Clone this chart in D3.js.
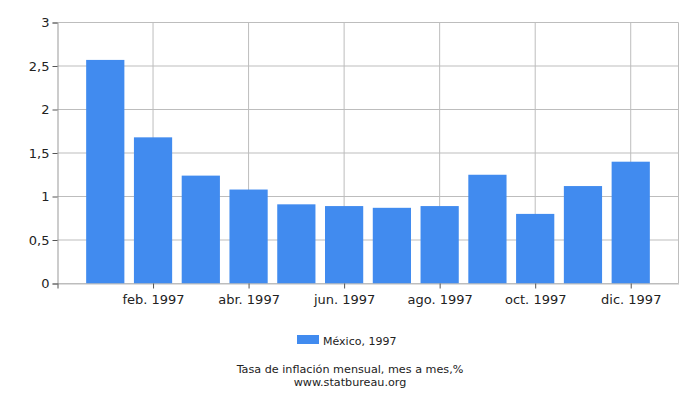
<!DOCTYPE html>
<html>
<head>
<meta charset="utf-8">
<script src="https://cdn.jsdelivr.net/npm/d3@7"></script>
<style>
  body { margin: 0; background: #fff; }
  text { font-family: "DejaVu Sans", sans-serif; fill: #222; }
</style>
</head>
<body>
<div id="chart"></div>
<script>
// data
var months = ["ene.", "feb.", "mar.", "abr.", "may.", "jun.", "jul.", "ago.", "sep.", "oct.", "nov.", "dic."];
var values = [2.57, 1.68, 1.24, 1.08, 0.91, 0.89, 0.87, 0.89, 1.25, 0.80, 1.12, 1.40];
var yTicks = [0, 0.5, 1, 1.5, 2, 2.5, 3];
var year = "1997";
var seriesName = "México, 1997";
var title = "Tasa de inflación mensual, mes a mes,%";
var source = "www.statbureau.org";

var width = 700, height = 400;
var margin = {top: 22.5, right: 21.5, bottom: 116.5, left: 57.5};
var w = width - margin.left - margin.right;
var h = height - margin.top - margin.bottom;

var svg = d3.select("#chart").append("svg")
    .attr("width", width)
    .attr("height", height);

var g = svg.append("g")
    .attr("transform", "translate(" + margin.left + "," + margin.top + ")");

// month index: bars at 0..11, one slot of padding each side
var x = d3.scaleLinear().domain([-1, 12]).range([0, w]);
var y = d3.scaleLinear().domain([0, 3]).range([h, 0]);
var slot = x(1) - x(0);
var barW = slot * 0.8;

var fmt = function(d) { return String(d).replace(".", ","); };
var xTicks = d3.range(1, 12, 2);

// grid
g.append("g").selectAll("line")
    .data(yTicks)
    .enter().append("line")
    .attr("x1", 0).attr("x2", w)
    .attr("y1", d => y(d)).attr("y2", d => y(d))
    .attr("stroke", "#bdbdbd");

g.append("g").selectAll("line")
    .data(xTicks.concat([12]))
    .enter().append("line")
    .attr("x1", d => x(d)).attr("x2", d => x(d))
    .attr("y1", 0).attr("y2", h)
    .attr("stroke", "#bdbdbd");

// bars
g.append("g").selectAll("rect")
    .data(values)
    .enter().append("rect")
    .attr("x", (d, i) => x(i) - barW / 2)
    .attr("y", d => y(d))
    .attr("width", barW)
    .attr("height", d => h - y(d))
    .attr("fill", "#418bef");

// axes
var yAxis = g.append("g")
    .call(d3.axisLeft(y).tickValues(yTicks).tickFormat(fmt).tickSize(5).tickPadding(3));
yAxis.select(".domain").attr("stroke", "#999");
yAxis.selectAll(".tick line").attr("stroke", "#555");
yAxis.selectAll("text").style("font-size", "13px").attr("fill", "#222");

var xAxis = g.append("g")
    .attr("transform", "translate(0," + h + ")")
    .call(d3.axisBottom(x).tickValues([-1].concat(xTicks))
        .tickFormat(d => d < 0 ? "" : months[d] + " " + year)
        .tickSize(5).tickPadding(6).tickSizeOuter(0));
xAxis.select(".domain").attr("stroke", "#bdbdbd");
xAxis.selectAll(".tick line").attr("stroke", "#555");
xAxis.selectAll("text").style("font-size", "13px").attr("fill", "#222");

// legend
var legend = svg.append("g").attr("transform", "translate(297,335)");
legend.append("rect")
    .attr("width", 22).attr("height", 9)
    .attr("fill", "#418bef");
legend.append("text")
    .attr("x", 26).attr("y", 9.5)
    .style("font-size", "11px")
    .text(seriesName);

svg.append("text")
    .attr("x", width / 2).attr("y", 372.5)
    .attr("text-anchor", "middle")
    .style("font-size", "11.2px")
    .text(title);

svg.append("text")
    .attr("x", width / 2).attr("y", 386)
    .attr("text-anchor", "middle")
    .style("font-size", "11.2px")
    .text(source);
</script>
</body>
</html>
